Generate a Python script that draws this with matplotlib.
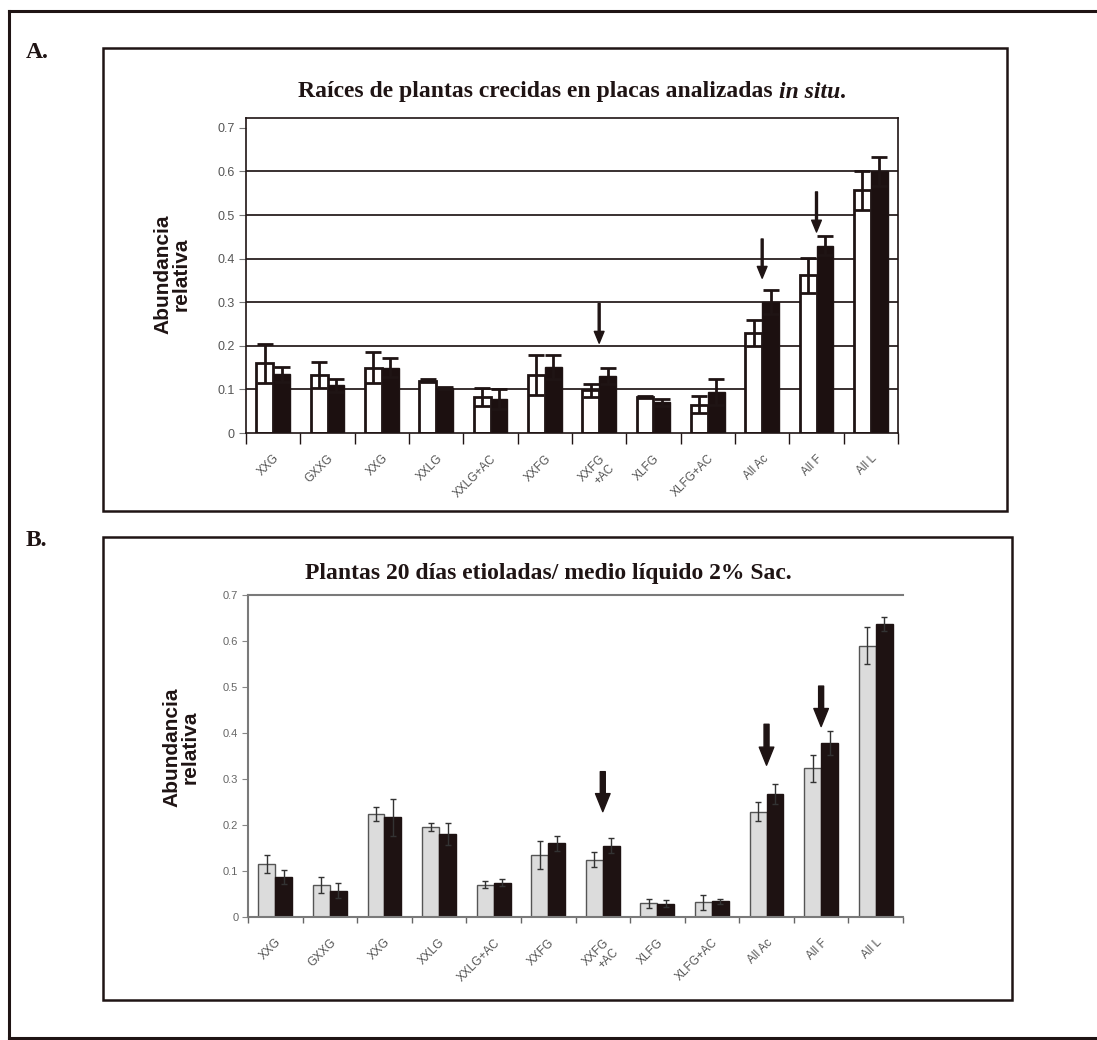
import numpy as np
import matplotlib
matplotlib.use("Agg")
import matplotlib.pyplot as plt
from matplotlib.patches import Rectangle
from matplotlib.lines import Line2D
from matplotlib.offsetbox import TextArea, HPacker, AnnotationBbox

# data
cats = ["XXG", "GXXG", "XXG", "XXLG", "XXLG+AC", "XXFG", "XXFG\n+AC",
        "XLFG", "XLFG+AC", "All Ac", "All F", "All L"]
yticks = [0, 0.1, 0.2, 0.3, 0.4, 0.5, 0.6, 0.7]
ytick_labels = ["0", "0.1", "0.2", "0.3", "0.4", "0.5", "0.6", "0.7"]

a_white = [0.16, 0.133, 0.15, 0.12, 0.083, 0.133, 0.098, 0.083, 0.065, 0.23, 0.362, 0.557]
a_white_err = [0.045, 0.03, 0.035, 0.003, 0.02, 0.045, 0.015, 0.002, 0.02, 0.03, 0.04, 0.045]
a_black = [0.135, 0.11, 0.15, 0.103, 0.078, 0.152, 0.13, 0.07, 0.095, 0.30, 0.43, 0.60]
a_black_err = [0.017, 0.015, 0.022, 0.003, 0.022, 0.027, 0.018, 0.007, 0.03, 0.028, 0.022, 0.033]

b_grey = [0.115, 0.07, 0.224, 0.196, 0.07, 0.135, 0.125, 0.03, 0.032, 0.229, 0.323, 0.59]
b_grey_err = [0.02, 0.018, 0.016, 0.008, 0.008, 0.03, 0.016, 0.01, 0.016, 0.02, 0.03, 0.04]
b_black = [0.087, 0.057, 0.217, 0.18, 0.075, 0.16, 0.155, 0.029, 0.034, 0.267, 0.379, 0.637]
b_black_err = [0.016, 0.016, 0.04, 0.024, 0.008, 0.017, 0.016, 0.008, 0.005, 0.022, 0.026, 0.016]

arrow_idx = [6, 9, 10]
a_arrow_from = [0.297, 0.445, 0.553]
a_arrow_to = [0.206, 0.355, 0.461]
b_arrow_from = [0.316, 0.419, 0.502]
b_arrow_to = [0.229, 0.33, 0.414]

W, H = 1097, 1040
fig = plt.figure(figsize=(W / 100, H / 100), dpi=100)
fig.patch.set_facecolor("white")

serif = "Liberation Serif"
sans = "Liberation Sans"
dark = "#1f1414"

# outer frame (right side runs off the page)
for xs, ys in [([9, W + 5], [11, 11]), ([9, 9], [11, 1038]), ([9, W + 5], [1038, 1038])]:
    fig.add_artist(Line2D([x / W for x in xs], [1 - y / H for y in ys],
                          color=dark, lw=2.2, transform=fig.transFigure))

# panel boxes
fig.add_artist(Rectangle((103 / W, 1 - 511 / H), 904 / W, 463 / H, fill=False,
                         ec=dark, lw=1.8, transform=fig.transFigure))
fig.add_artist(Rectangle((103 / W, 1 - 1000 / H), 909 / W, 463 / H, fill=False,
                         ec=dark, lw=1.8, transform=fig.transFigure))

fig.text(26 / W, 1 - 52 / H, "A.", family=serif, weight="bold", fontsize=17,
         va="center", ha="left", color=dark)
fig.text(26 / W, 1 - 540 / H, "B.", family=serif, weight="bold", fontsize=17,
         va="center", ha="left", color=dark)


def title(parts, x, y):
    boxes = [TextArea(s, textprops=dict(family=serif, weight="bold", style=st,
                                        fontsize=17, color=dark))
             for s, st in parts]
    pack = HPacker(children=boxes, align="baseline", pad=0, sep=0)
    fig.add_artist(AnnotationBbox(pack, (x, y), xycoords="figure fraction",
                                  frameon=False, box_alignment=(0.5, 0.5)))


title([("Raíces de plantas crecidas en placas analizadas ", "normal"),
       ("in situ", "italic"), (".", "normal")], 572 / W, 1 - 92 / H)
title([("Plantas 20 días etioladas/ medio líquido 2% Sac.", "normal")],
      548 / W, 1 - 573 / H)

fig.text(172 / W, 1 - 274 / H, "Abundancia\nrelativa", family=sans, weight="bold",
         fontsize=15, rotation=90, ha="center", va="center", multialignment="center",
         linespacing=1.0, color=dark)
fig.text(181 / W, 1 - 747 / H, "Abundancia\nrelativa", family=sans, weight="bold",
         fontsize=15, rotation=90, ha="center", va="center", multialignment="center",
         linespacing=1.0, color=dark)

x = np.arange(len(cats)) + 0.5
bw = 0.31

# ---- panel A ----
axA = fig.add_axes([246 / W, 1 - 433 / H, 652 / W, 315 / H])
axA.set_xlim(0, len(cats))
axA.set_ylim(0, 0.7225)
for v in yticks[1:-1]:
    axA.axhline(v, color="#2a2020", lw=1.3, zorder=0)
axA.bar(x - bw / 2, a_white, bw, color="white", edgecolor=dark, lw=2, zorder=2)
axA.bar(x + bw / 2, a_black, bw, color="#1c1010", edgecolor=dark, lw=1, zorder=2)
axA.errorbar(x - bw / 2, a_white, yerr=a_white_err, fmt="none", ecolor=dark,
             elinewidth=2, capsize=6, capthick=2, zorder=3)
axA.errorbar(x + bw / 2, a_black, yerr=a_black_err, fmt="none", ecolor=dark,
             elinewidth=2, capsize=6, capthick=2, zorder=3)
for i, y0, y1 in zip(arrow_idx, a_arrow_from, a_arrow_to):
    axA.annotate("", xy=(x[i], y1), xytext=(x[i], y0),
                 arrowprops=dict(width=1.4, headwidth=7, headlength=8.5,
                                 color=dark, shrink=0))
for s in axA.spines.values():
    s.set_color(dark)
    s.set_linewidth(1.2)
axA.set_yticks(yticks)
axA.set_yticklabels(ytick_labels, family=sans)
axA.tick_params(axis="y", length=5, width=0.8, color="#777", labelsize=9,
                labelcolor="#555", pad=3)
axA.set_xticks(x)
axA.set_xticklabels(cats, rotation=45, ha="right", va="top", rotation_mode="anchor",
                    family=sans, fontsize=8.5, color="#555")
axA.tick_params(axis="x", which="major", length=0, pad=14)
axA.set_xticks(np.arange(len(cats) + 1), minor=True)
axA.tick_params(axis="x", which="minor", length=8, width=1, color=dark)

# ---- panel B ----
axB = fig.add_axes([248 / W, 1 - 917 / H, 655 / W, 322 / H])
axB.set_xlim(0, len(cats))
axB.set_ylim(0, 0.7)
axB.bar(x - bw / 2, b_grey, bw, color="#dcdcdc", edgecolor="#555", lw=1, zorder=2)
axB.bar(x + bw / 2, b_black, bw, color="#1e1212", edgecolor="#1e1212", lw=1, zorder=2)
axB.errorbar(x - bw / 2, b_grey, yerr=b_grey_err, fmt="none", ecolor="#333",
             elinewidth=1, capsize=2.5, capthick=1, zorder=3)
axB.errorbar(x + bw / 2, b_black, yerr=b_black_err, fmt="none", ecolor="#333",
             elinewidth=1, capsize=2.5, capthick=1, zorder=3)
for i, y0, y1 in zip(arrow_idx, b_arrow_from, b_arrow_to):
    axB.annotate("", xy=(x[i], y1), xytext=(x[i], y0),
                 arrowprops=dict(width=3.6, headwidth=10.5, headlength=13,
                                 color=dark, shrink=0))
axB.spines["right"].set_visible(False)
for name in ["left", "top", "bottom"]:
    axB.spines[name].set_color("#7a7a7a")
    axB.spines[name].set_linewidth(1.5)
axB.set_yticks(yticks)
axB.set_yticklabels(ytick_labels, family=sans)
axB.tick_params(axis="y", length=4, width=0.8, color="#888", labelsize=8,
                labelcolor="#666", pad=3)
axB.set_xticks(x)
axB.set_xticklabels(cats, rotation=45, ha="right", va="top", rotation_mode="anchor",
                    family=sans, fontsize=8.5, color="#555")
axB.tick_params(axis="x", which="major", length=0, pad=14)
axB.set_xticks(np.arange(len(cats) + 1), minor=True)
axB.tick_params(axis="x", which="minor", length=4, width=1, color="#666")

fig.savefig("out.png", dpi=100)
